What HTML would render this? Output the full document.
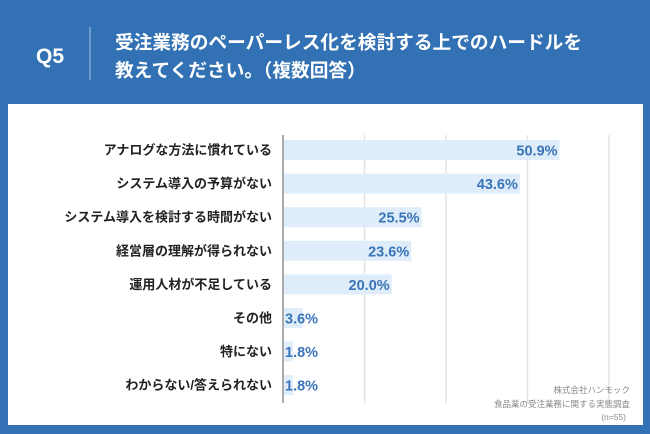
<!DOCTYPE html>
<html><head><meta charset="utf-8"><style>
body{margin:0;width:650px;height:434px;background:#3371b5;font-family:"Liberation Sans","Noto Sans CJK JP",sans-serif;overflow:hidden;position:relative}
svg{position:absolute;left:0;top:0}
</style></head><body>
<svg width="650" height="434">
<text x="50" y="63" fill="#fff" font-size="21" font-weight="bold" text-anchor="middle">Q5</text>
<line x1="90" y1="27" x2="90" y2="80" stroke="#a9c3e2" stroke-width="1"/>
<text x="115" y="49" fill="#fff" font-size="18.7" font-weight="bold">受注業務のペーパーレス化を検討する上でのハードルを</text>
<text x="115" y="77" fill="#fff" font-size="18.7" font-weight="bold">教えてください。（複数回答）</text>
<rect x="8" y="104" width="635" height="321" fill="#fff"/>
<g id="grid"></g><g id="bars"></g>
<text x="630" y="393" fill="#888" font-size="8.5" text-anchor="end">株式会社ハンモック</text>
<text x="630" y="407" fill="#888" font-size="8.5" text-anchor="end">食品業の受注業務に関する実態調査</text>
<text x="626" y="420" fill="#888" font-size="8.5" text-anchor="end">(n=55)</text>
</svg>
<script>
const categories=["アナログな方法に慣れている","システム導入の予算がない","システム導入を検討する時間がない","経営層の理解が得られない","運用人材が不足している","その他","特にない","わからない/答えられない"];
const values=[50.9,43.6,25.5,23.6,20.0,3.6,1.8,1.8];
const gridTicks=[15,30,45,60];
const NS="http://www.w3.org/2000/svg";
const x0=283,xmax=60,xw=326;
const xs=v=>x0+v/xmax*xw;
const rowY=i=>150+i*33.6;
function mk(t,a,p){const e=document.createElementNS(NS,t);for(const k in a)e.setAttribute(k,a[k]);p.appendChild(e);return e;}
const g=document.getElementById('grid'),b=document.getElementById('bars');
gridTicks.forEach(t=>{
const l=mk('line',{x1:xs(t),x2:xs(t),y1:135,y2:403,stroke:'#e3e3e3','stroke-width':1.5},g);


});
const ax=mk('line',{x1:x0,x2:x0,y1:135,y2:403,stroke:'#555','stroke-width':1},g);


categories.forEach((c,i)=>{
const y=rowY(i);
const r=mk('rect',{x:x0+1,y:y-10,width:xs(values[i])-x0-1,height:20,fill:'#deedf9'},b);


const lb=mk('text',{x:272,y:y+4.5,'font-size':13,'font-weight':'bold',fill:'#222','text-anchor':'end'},b);
lb.textContent=c;


const txt=values[i].toFixed(1)+'%';
const big=xs(values[i])-x0>45;
const vl=mk('text',{x:big?xs(values[i])-2:x0+2,y:y+5.5,'font-size':14.5,'font-weight':'bold',fill:'#3a74b8','text-anchor':big?'end':'start'},b);
vl.textContent=txt;


});
</script>
</body></html>
